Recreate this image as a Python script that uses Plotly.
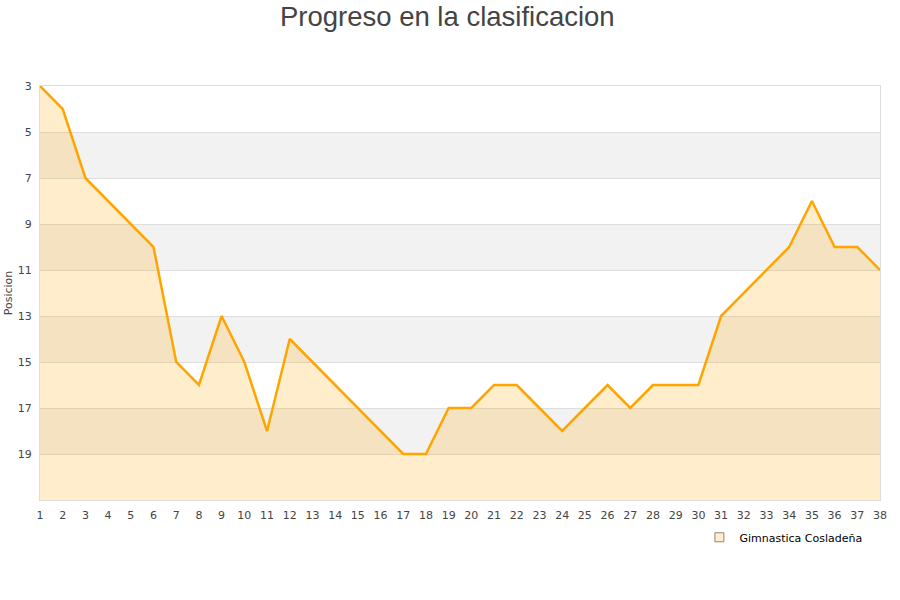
import plotly.graph_objects as go

jornadas = list(range(1, 39))
posiciones = [3, 4, 7, 8, 9, 10, 15, 16, 13, 15, 18, 14, 15, 16, 17, 18, 19, 19, 17, 17,
              16, 16, 17, 18, 17, 16, 17, 16, 16, 16, 13, 12, 11, 10, 8, 10, 10, 11]
equipo = "Gimnastica Cosladeña"
y_ticks = [3, 5, 7, 9, 11, 13, 15, 17, 19]
bands = [(5, 7), (9, 11), (13, 15), (17, 19)]
y_bottom = 21

fig = go.Figure()
fig.add_trace(go.Scatter(x=jornadas, y=[y_bottom] * len(jornadas), mode="lines",
                         line=dict(width=0), showlegend=False, hoverinfo="skip"))
fig.add_trace(go.Scatter(x=jornadas, y=posiciones, mode="lines", name=equipo,
                         line=dict(color="#FFA500", width=2.5), showlegend=False,
                         fill="tonexty", fillcolor="rgba(255,165,0,0.2)"))
fig.add_trace(go.Scatter(x=[None], y=[None], mode="markers", name=equipo,
                         marker=dict(symbol="square", size=9, color="#FFEDCC",
                                     line=dict(color="#888", width=1))))

for a, b in bands:
    fig.add_shape(type="rect", xref="paper", yref="y", x0=0, x1=1, y0=a, y1=b,
                  fillcolor="#f2f2f2", line=dict(width=0), layer="below")

fig.update_layout(
    width=900, height=600,
    margin=dict(l=40, r=20, t=86, b=100),
    plot_bgcolor="white", paper_bgcolor="white",
    title=dict(text="Progreso en la clasificacion", x=0.497, xanchor="center", y=0.988,
               yanchor="top", font=dict(size=27.5, color="#444", family="Liberation Sans")),
    font=dict(family="DejaVu Sans", size=11, color="#444"),
    xaxis=dict(range=[1, 38], tickmode="array", tickvals=jornadas, showgrid=False,
               showline=True, linecolor="#ddd", mirror=True, zeroline=False,
               ticks="", tickfont=dict(size=11, color="#444"), automargin=False,
               ticklabelstandoff=5),
    yaxis=dict(range=[y_bottom, 3], tickmode="array", tickvals=y_ticks, showgrid=True,
               gridcolor="#ddd", showline=True, linecolor="#ddd", mirror=True,
               zeroline=False, ticks="", automargin=False, ticklabelstandoff=5,
               title=dict(text="Posicion", font=dict(size=11), standoff=2),
               tickfont=dict(size=11, color="#444")),
    legend=dict(orientation="h", x=0.985, xanchor="right", y=-0.055, yanchor="top",
                font=dict(size=11, color="#000"), bgcolor="rgba(0,0,0,0)"),
)

fig.write_html("out.html", config={"displayModeBar": False},
               post_script="document.body.style.margin='0';")
